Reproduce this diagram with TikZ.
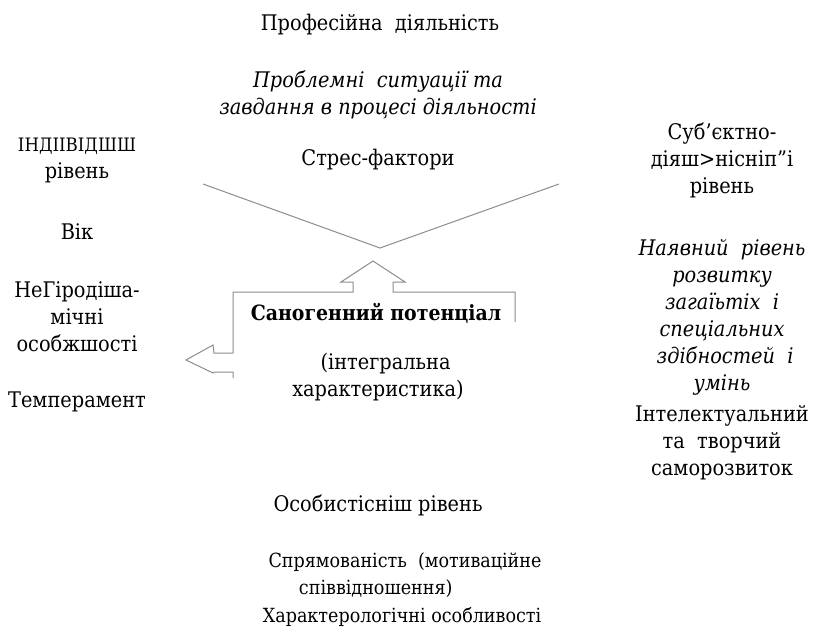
\documentclass[tikz,border=0pt]{standalone}
\usepackage{fontspec}
\setmainfont{DejaVu Serif Condensed}
\usetikzlibrary{positioning}
\tikzstyle{txt} = [font=\fontsize{21.5}{27}\selectfont, align=center, inner sep=0pt]
\tikzstyle{itxt} = [txt, font=\fontsize{21.5}{27}\selectfont\itshape]
\tikzstyle{small} = [txt, font=\fontsize{19.5}{27}\selectfont]
\tikzstyle{outline} = [draw=black!45, line width=1pt, line join=miter]

\begin{document}
\begin{tikzpicture}[x=1pt,y=-1pt]
\useasboundingbox (0,0) rectangle (813,628);
% top
\node[txt] (prof) at (380,25) {Професійна\ \ діяльність};
\node[itxt] (probl) at (378,95) {Проблемні\ \ ситуації та\\завдання\ в\ процесі діяльності};
\node[txt] (stress) at (378,160) {Стрес-фактори};
% V
\coordinate (vl) at (203,184);
\coordinate (vtip) at (380,248);
\coordinate (vr) at (559,184);
\draw[outline] (vl) -- (vtip) -- (vr);
% left column
\node[txt] (indiv) at (77,160) {{\fontsize{18.5}{27}\selectfont ІНДІІВІДШШ}\\рівень};
\node[txt] (vik) at (77,232) {Вік};
\node[txt] (neuro) at (77,317) {НеГіродіша-\\мічні\\особжшості};
\node[txt] (temp) at (77,402) {Темперамент};
% right column
\node[txt] (subj) at (722,160) {Суб'єктно-\\діяш>нісніп"і\\рівень};
\node[itxt] (abil) at (722,317) {Наявний\ \ рівень\\розвитку\hspace{1.6em}\\ загаїьтіх\ \ і\\спеціальних\\ \ здібностей\ \ і\\умінь\hspace{2.2em}};
\node[txt] (intel) at (722,443) {Інтелектуальний\\та\ \ творчий\\саморозвиток};
% sanogenic block
\begin{scope}
\clip (236,294) rectangle (513,322);
\node[txt, font=\fontsize{21}{27}\selectfont\bfseries] (sanog) at (376,313) {Саногенний потенціал};
\end{scope}
\node[txt] (integr) at (378,377) {\hspace*{0.7em}(інтегральна\\характеристика)};
\draw[outline] (233,353) -- (233,292) -- (353,292) -- (353,282) -- (341,282)
  -- (373,261) -- (405,282) -- (393,282) -- (393,292) -- (515,292) -- (515,322);
\draw[outline] (233,353) -- (214,353) -- (213,345) -- (186,360) -- (213,373)
  -- (214,372) -- (233,372) -- (233,378);
% bottom
\node[txt] (person) at (378,505) {Особистісніш рівень};
\node[small] (direct) at (405,575) {Спрямованість\ \ (мотиваційне\\\hspace*{-3em}співвідношення)};
\node[small] (charac) at (402,617) {Характерологічні особливості};
\end{tikzpicture}
\end{document}
